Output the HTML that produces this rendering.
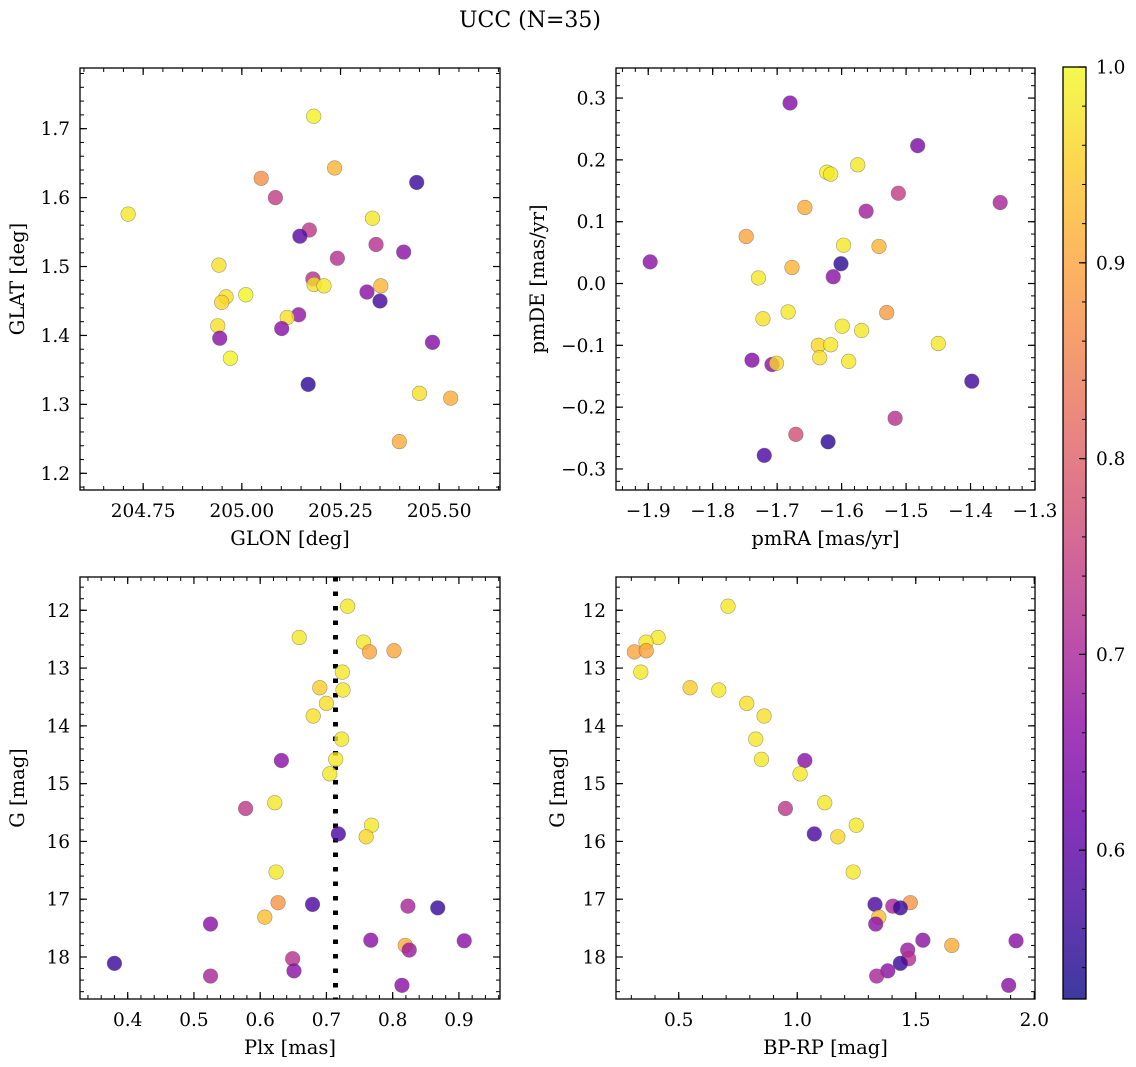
<!DOCTYPE html>
<html><head><meta charset="utf-8">
<style>
html,body{margin:0;padding:0;background:#fff;}
svg{display:block;font-family:"DejaVu Serif","Liberation Serif",serif;}
</style></head>
<body>
<svg id="fig" width="1136" height="1067" viewBox="0 0 1136 1067" xmlns="http://www.w3.org/2000/svg">
<defs>
<linearGradient id="plasmaGrad" x1="0" y1="1" x2="0" y2="0">
<stop offset="0" stop-color="#0d0887"/><stop offset="0.1" stop-color="#41049d"/><stop offset="0.2" stop-color="#6a00a8"/><stop offset="0.3" stop-color="#8f0da4"/><stop offset="0.4" stop-color="#b12a90"/><stop offset="0.5" stop-color="#cc4778"/><stop offset="0.6" stop-color="#e16462"/><stop offset="0.7" stop-color="#f2844b"/><stop offset="0.8" stop-color="#fca636"/><stop offset="0.9" stop-color="#fcce25"/><stop offset="1" stop-color="#f0f921"/>
</linearGradient>
</defs>
<rect width="1136" height="1067" fill="#fff"/>
<text x="530" y="27" text-anchor="middle" font-size="22">UCC (N=35)</text>
</svg>
<script>
// ---- data ----
const glon = [204.712,205.182,205.235,205.049,205.443,205.085,205.331,205.171,205.147,205.340,205.410,205.242,204.942,205.180,205.183,205.208,205.352,205.317,205.350,204.960,204.949,205.010,205.144,205.115,205.101,204.939,204.944,204.971,205.483,205.168,205.450,205.529,205.399];
const glat = [1.576,1.718,1.643,1.628,1.622,1.600,1.570,1.553,1.544,1.532,1.521,1.512,1.502,1.482,1.474,1.472,1.472,1.463,1.450,1.456,1.448,1.459,1.430,1.426,1.410,1.414,1.396,1.367,1.390,1.329,1.316,1.309,1.246];
const probPos = [0.98,0.99,0.92,0.87,0.56,0.74,0.98,0.73,0.60,0.72,0.66,0.72,0.97,0.72,0.97,0.98,0.92,0.66,0.57,0.97,0.96,0.995,0.67,0.97,0.66,0.97,0.66,0.995,0.65,0.55,0.97,0.91,0.91];

const pmra = [-1.680,-1.482,-1.575,-1.623,-1.617,-1.512,-1.354,-1.657,-1.562,-1.748,-1.597,-1.542,-1.897,-1.601,-1.677,-1.613,-1.729,-1.683,-1.530,-1.722,-1.599,-1.569,-1.450,-1.636,-1.617,-1.634,-1.589,-1.739,-1.708,-1.701,-1.398,-1.517,-1.671,-1.621,-1.720];
const pmde = [0.292,0.223,0.192,0.180,0.177,0.146,0.131,0.123,0.117,0.076,0.062,0.060,0.035,0.032,0.026,0.011,0.009,-0.046,-0.047,-0.057,-0.069,-0.076,-0.097,-0.100,-0.099,-0.120,-0.126,-0.124,-0.131,-0.129,-0.158,-0.218,-0.244,-0.256,-0.278];
const probPm = [0.65,0.64,0.98,0.99,0.98,0.74,0.70,0.91,0.69,0.90,0.98,0.92,0.66,0.55,0.92,0.66,0.98,0.98,0.89,0.97,0.98,0.98,0.98,0.96,0.98,0.97,0.98,0.65,0.66,0.96,0.57,0.72,0.77,0.55,0.58];

const plx  = [0.732,0.659,0.756,0.765,0.802,0.724,0.690,0.725,0.700,0.680,0.723,0.632,0.714,0.705,0.622,0.578,0.768,0.760,0.718,0.624,0.627,0.679,0.823,0.868,0.607,0.525,0.767,0.908,0.819,0.825,0.649,0.380,0.651,0.525,0.814];
const bprp = [0.708,0.413,0.362,0.313,0.363,0.340,0.548,0.669,0.787,0.860,0.825,1.032,0.849,1.012,1.116,0.950,1.249,1.171,1.072,1.236,1.477,1.328,1.403,1.435,1.344,1.331,1.530,1.923,1.652,1.466,1.470,1.435,1.382,1.335,1.892];
const gmag = [11.93,12.47,12.55,12.72,12.70,13.07,13.34,13.38,13.61,13.83,14.23,14.60,14.58,14.83,15.33,15.43,15.72,15.92,15.87,16.53,17.06,17.09,17.12,17.15,17.31,17.43,17.71,17.72,17.80,17.88,18.03,18.11,18.24,18.33,18.49];
const probPhot = [0.98,0.98,0.98,0.90,0.90,0.98,0.95,0.98,0.97,0.97,0.98,0.66,0.98,0.98,0.98,0.73,0.98,0.96,0.58,0.98,0.88,0.58,0.70,0.56,0.93,0.66,0.66,0.66,0.91,0.68,0.72,0.56,0.66,0.70,0.66];

const plxMedian = 0.7137;
const cbTicks = [0.6,0.7,0.8,0.9,1.0];
const cbMin = 0.524, cbMax = 1.0;

// ---- helpers ----
const NS = "http://www.w3.org/2000/svg";
const svg = document.getElementById("fig");
const TICKFS = 18.5, LABFS = 19.5;
function mk(tag, attrs, parent){ const e=document.createElementNS(NS,tag); for(const k in attrs) e.setAttribute(k,attrs[k]); (parent||svg).appendChild(e); return e; }
const stops=[[13,8,135],[65,4,157],[106,0,168],[143,13,164],[177,42,144],[204,71,120],[225,100,98],[242,132,75],[252,166,54],[252,206,37],[240,249,33]];
function plasma(p){ let t=(p-cbMin)/(cbMax-cbMin); t=Math.max(0,Math.min(1,t)); const s=t*10; const i=Math.min(9,Math.floor(s)); const f=s-i; const a=stops[i],b=stops[i+1]; return "rgb("+a.map((v,j)=>Math.round(v+(b[j]-v)*f)).join(",")+")"; }
function fmt(v,d){ return (v<-1e-9?"\u2212":"")+Math.abs(v).toFixed(d); }

function panel(cfg){
  const g=mk("g",{});
  
  
  const X=v=>cfg.x0+(v-cfg.xd[0])/(cfg.xd[1]-cfg.xd[0])*(cfg.x1-cfg.x0);
  const Y=cfg.invert ? (v=>cfg.y0+(v-cfg.yd[0])/(cfg.yd[1]-cfg.yd[0])*(cfg.y1-cfg.y0))
                     : (v=>cfg.y1-(v-cfg.yd[0])/(cfg.yd[1]-cfg.yd[0])*(cfg.y1-cfg.y0));
  const lo=Math.min(...cfg.xd),hi=Math.max(...cfg.xd);
  for(let v=Math.ceil(lo/cfg.xminor-1e-6)*cfg.xminor; v<=hi+1e-9; v+=cfg.xminor){ const x=X(v);
    mk("line",{x1:x,x2:x,y1:cfg.y1,y2:cfg.y1-4,stroke:"#000","stroke-width":1},g); mk("line",{x1:x,x2:x,y1:cfg.y0,y2:cfg.y0+4,stroke:"#000","stroke-width":1},g);}
  const ylo=Math.min(...cfg.yd),yhi=Math.max(...cfg.yd);
  for(let v=Math.ceil(ylo/cfg.yminor-1e-6)*cfg.yminor; v<=yhi+1e-9; v+=cfg.yminor){ const y=Y(v);
    mk("line",{x1:cfg.x0,x2:cfg.x0+4,y1:y,y2:y,stroke:"#000","stroke-width":1},g); mk("line",{x1:cfg.x1,x2:cfg.x1-4,y1:y,y2:y,stroke:"#000","stroke-width":1},g);}
  cfg.xticks.forEach(v=>{ const x=X(v);
    mk("line",{x1:x,x2:x,y1:cfg.y1,y2:cfg.y1-7,stroke:"#000","stroke-width":1.2},g); mk("line",{x1:x,x2:x,y1:cfg.y0,y2:cfg.y0+7,stroke:"#000","stroke-width":1.2},g);
    const t=mk("text",{x:x,y:cfg.y1+27,"text-anchor":"middle","font-size":TICKFS},g); t.textContent=fmt(v,cfg.xdec);
    
     });
  cfg.yticks.forEach(v=>{ const y=Y(v);
    mk("line",{x1:cfg.x0,x2:cfg.x0+7,y1:y,y2:y,stroke:"#000","stroke-width":1.2},g); mk("line",{x1:cfg.x1,x2:cfg.x1-7,y1:y,y2:y,stroke:"#000","stroke-width":1.2},g);
    const t=mk("text",{x:cfg.x0-10,y:y+6.5,"text-anchor":"end","font-size":TICKFS},g); t.textContent=fmt(v,cfg.ydec);
    
     });
  if(cfg.vline!==undefined){ const x=X(cfg.vline); const l=mk("line",{x1:x,x2:x,y1:cfg.y0,y2:cfg.y1,stroke:"#000","stroke-width":5,"stroke-dasharray":"4.5 10"},g);
    
     }
  cfg.xs.forEach((v,i)=>{ const c=mk("circle",{cx:X(v),cy:Y(cfg.ys[i]),r:7.3,fill:plasma(cfg.ps[i]),"fill-opacity":0.8,stroke:"#555","stroke-opacity":0.55,"stroke-width":0.6},g);
    
     });
  const fr=mk("rect",{x:cfg.x0,y:cfg.y0,width:cfg.x1-cfg.x0,height:cfg.y1-cfg.y0,fill:"none",stroke:"#000","stroke-width":1.3},g);
  
  
  const xl=mk("text",{x:(cfg.x0+cfg.x1)/2,y:cfg.y1+55,"text-anchor":"middle","font-size":LABFS},g); xl.textContent=cfg.xlabel;
  
  
  const yx=cfg.ylabx, yy=(cfg.y0+cfg.y1)/2;
  const yl=mk("text",{x:yx,y:yy,"text-anchor":"middle","font-size":LABFS,transform:"rotate(-90 "+yx+" "+yy+")"},g); yl.textContent=cfg.ylabel;
  
  
}

panel({name:"glon-glat-panel",x0:80,x1:500,y0:68,y1:490,xd:[204.590,205.654],yd:[1.1758,1.788],xticks:[204.75,205.0,205.25,205.5],xdec:2,yticks:[1.2,1.3,1.4,1.5,1.6,1.7],ydec:1,xminor:0.05,yminor:0.02,xs:glon,ys:glat,ps:probPos,xlabel:"GLON [deg]",ylabel:"GLAT [deg]",ylabx:24});
panel({name:"pm-panel",x0:616,x1:1035,y0:68,y1:490,xd:[-1.950,-1.300],yd:[-0.3340,0.3486],xticks:[-1.9,-1.8,-1.7,-1.6,-1.5,-1.4,-1.3],xdec:1,yticks:[-0.3,-0.2,-0.1,0,0.1,0.2,0.3],ydec:1,xminor:0.02,yminor:0.02,xs:pmra,ys:pmde,ps:probPm,xlabel:"pmRA [mas/yr]",ylabel:"pmDE [mas/yr]",ylabx:544});
panel({name:"plx-g-panel",x0:80,x1:500,y0:577,y1:999,xd:[0.328,0.962],yd:[11.424,18.727],invert:true,xticks:[0.4,0.5,0.6,0.7,0.8,0.9],xdec:1,yticks:[12,13,14,15,16,17,18],ydec:0,xminor:0.02,yminor:0.2,xs:plx,ys:gmag,ps:probPhot,xlabel:"Plx [mas]",ylabel:"G [mag]",ylabx:24,vline:plxMedian});
panel({name:"cmd-panel",x0:616,x1:1035,y0:577,y1:999,xd:[0.2354,2.003],yd:[11.424,18.727],invert:true,xticks:[0.5,1.0,1.5,2.0],xdec:1,yticks:[12,13,14,15,16,17,18],ydec:0,xminor:0.1,yminor:0.2,xs:bprp,ys:gmag,ps:probPhot,xlabel:"BP-RP [mag]",ylabel:"G [mag]",ylabx:564});

// colorbar
const cb=mk("g",{});


const cbx0=1063,cbx1=1086,cby0=67,cby1=999;
const CY=v=>cby1-(v-cbMin)/(cbMax-cbMin)*(cby1-cby0);
mk("rect",{x:cbx0,y:cby0,width:cbx1-cbx0,height:cby1-cby0,fill:"url(#plasmaGrad)","fill-opacity":0.8},cb);
for(let v=0.54; v<=1.0001; v+=0.02){ const y=CY(v); mk("line",{x1:cbx1,x2:cbx1-4,y1:y,y2:y,stroke:"#000","stroke-width":1},cb); }
cbTicks.forEach(v=>{ const y=CY(v); mk("line",{x1:cbx1,x2:cbx1-7,y1:y,y2:y,stroke:"#000","stroke-width":1.2},cb);
  const t=mk("text",{x:cbx1+10,y:y+6.5,"font-size":TICKFS},cb); t.textContent=v.toFixed(1);
  
   });
mk("rect",{x:cbx0,y:cby0,width:cbx1-cbx0,height:cby1-cby0,fill:"none",stroke:"#000","stroke-width":1.3},cb);
</script>
</body></html>
